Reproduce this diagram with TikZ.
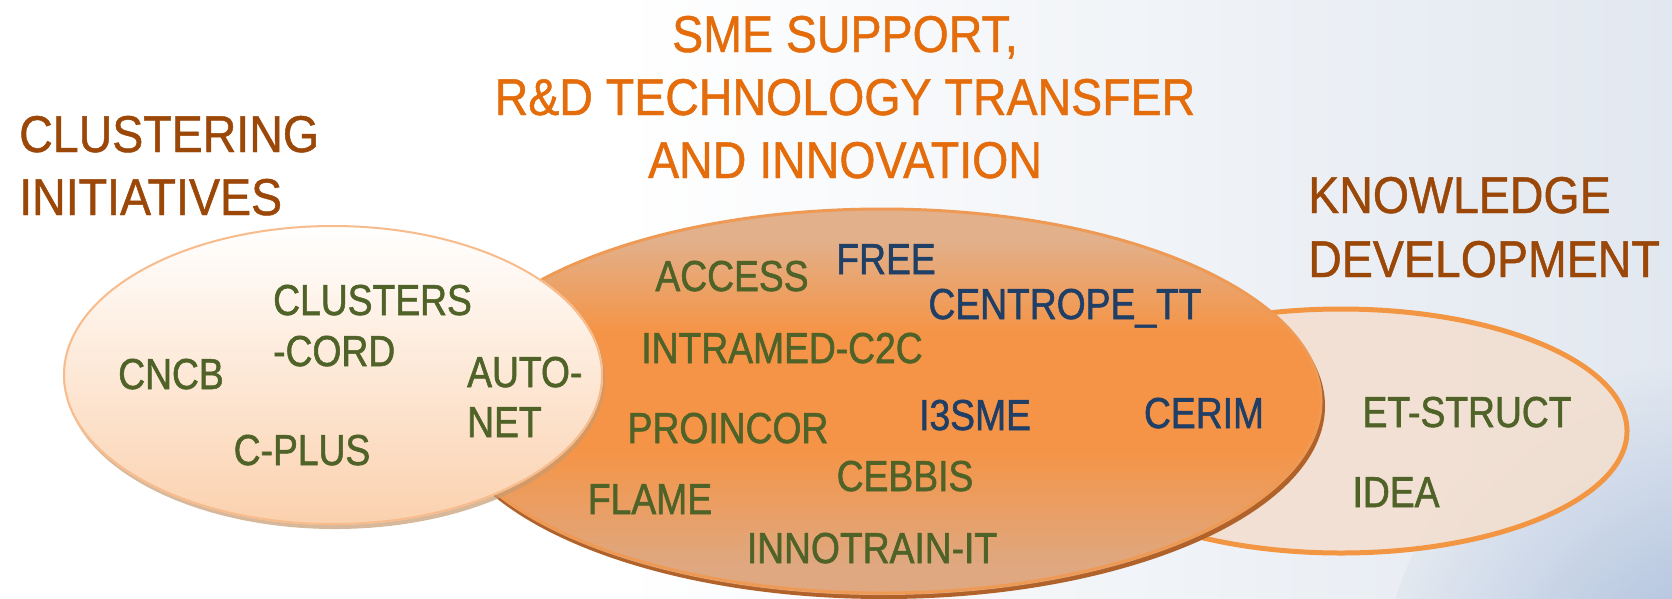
\documentclass[tikz,border=0pt]{standalone}
\usepackage{fontspec}
\setmainfont{Liberation Sans}
\newfontfamily\titlefont[FakeStretch=0.90, FakeBold=0.9]{Liberation Sans}
\newfontfamily\itemfont[FakeStretch=0.86, FakeBold=1.3]{Liberation Sans}
\definecolor{titlebrown}{HTML}{9A4708}
\definecolor{titleorange}{HTML}{E46C0A}
\definecolor{itemgreen}{HTML}{4F6228}
\definecolor{itemblue}{HTML}{1F3F66}
\definecolor{bgright}{HTML}{E2E8F0}
\definecolor{bgblue}{HTML}{9AB1D6}
\definecolor{midtop}{HTML}{E2B08A}
\definecolor{midmid}{HTML}{F59446}
\definecolor{midbot}{HTML}{DFA880}
\definecolor{midrim}{HTML}{EE9A55}
\definecolor{midshadow}{HTML}{B0622A}
\definecolor{lefttop}{HTML}{FFFFFF}
\definecolor{leftbot}{HTML}{FBD1AE}
\definecolor{leftrim}{HTML}{F8BC8C}
\definecolor{leftshadow}{HTML}{C89A70}
\definecolor{rightfill}{HTML}{F2DFD0}
\definecolor{rightrim}{HTML}{F39643}
\pgfdeclareverticalshading{midshading}{100bp}{color(0bp)=(midbot); color(29bp)=(midbot); color(44bp)=(midmid); color(59bp)=(midmid); color(71bp)=(midtop); color(100bp)=(midtop)}
\begin{document}
\begin{tikzpicture}[x=1pt,y=-1pt,
  titleA/.style={font=\titlefont\fontsize{51.7}{63}\selectfont, text=titlebrown, inner sep=0pt},
  titleB/.style={font=\titlefont\fontsize{51.7}{63}\selectfont, text=titleorange, inner sep=0pt},
  item/.style={font=\itemfont\fontsize{43.3}{50}\selectfont, text=itemgreen, inner sep=0pt},
  itemb/.style={item, text=itemblue}]
\useasboundingbox (0,0) rectangle (1672,598);
% background
\fill[white] (0,0) rectangle (1672,598);
\shade[left color=white, right color=bgright] (620,0) rectangle (1672,598);
\begin{scope}
  \clip (0,0) rectangle (1672,598);
  \shade[inner color=bgblue, outer color=bgright, opacity=0.85] (1720,700) circle (340pt);
\end{scope}
% right ellipse (knowledge development)
\fill[rightfill, opacity=0.9] (1341,431) ellipse [x radius=288pt, y radius=124pt];
\draw[rightrim, line width=5pt] (1341,431) ellipse [x radius=286pt, y radius=122pt];
% middle ellipse (SME support)
\fill[midshadow] (884,406) ellipse [x radius=441pt, y radius=193pt];
\shade[shading=midshading] (882,402) ellipse [x radius=440pt, y radius=193pt];
\draw[midrim, line width=3pt] (882,401) ellipse [x radius=439pt, y radius=192pt];
% left ellipse (clustering)
\fill[leftshadow, opacity=0.7] (335,379) ellipse [x radius=270pt, y radius=150pt];
\shade[top color=lefttop, bottom color=leftbot] (333,375) ellipse [x radius=270pt, y radius=150pt];
\draw[leftrim, line width=2pt] (333,375) ellipse [x radius=269pt, y radius=149pt];
% titles
\node[titleA, anchor=base west] (clus1) at (19,152) {CLUSTERING};
\node[titleA, anchor=base west] (clus2) at (19,215) {INITIATIVES};
\node[titleB, anchor=base] (sme1) at (845,52) {SME SUPPORT,};
\node[titleB, anchor=base] (sme2) at (845,115) {R\&D TECHNOLOGY TRANSFER};
\node[titleB, anchor=base] (sme3) at (845,178) {AND INNOVATION};
\node[titleA, anchor=base west] (know1) at (1308,213) {KNOWLEDGE};
\node[titleA, anchor=base west] (know2) at (1308,277) {DEVELOPMENT};
% left items
\node[item, anchor=base] (cncb) at (171,389) {CNCB};
\node[item, anchor=base west] (clusters1) at (273,315) {CLUSTERS};
\node[item, anchor=base west] (clusters2) at (273,366) {-CORD};
\node[item, anchor=base] (cplus) at (302,465) {C-PLUS};
\node[item, anchor=base west] (auto1) at (467,387) {AUTO-};
\node[item, anchor=base west] (auto2) at (467,437) {NET};
% middle items
\node[item, anchor=base] (access) at (732,291) {ACCESS};
\node[itemb, anchor=base] (free) at (886,274) {FREE};
\node[itemb, anchor=base] (centrope) at (1065,319) {CENTROPE\_TT};
\node[item, anchor=base] (intramed) at (782,363) {INTRAMED-C2C};
\node[item, anchor=base] (proincor) at (728,443) {PROINCOR};
\node[itemb, anchor=base] (i3sme) at (975,430) {I3SME};
\node[itemb, anchor=base] (cerim) at (1204,428) {CERIM};
\node[item, anchor=base] (cebbis) at (905,491) {CEBBIS};
\node[item, anchor=base] (flame) at (650,514) {FLAME};
\node[item, anchor=base] (innotrain) at (872,563) {INNOTRAIN-IT};
% right items
\node[item, anchor=base] (etstruct) at (1467,427) {ET-STRUCT};
\node[item, anchor=base] (idea) at (1396,507) {IDEA};
\end{tikzpicture}
\end{document}
